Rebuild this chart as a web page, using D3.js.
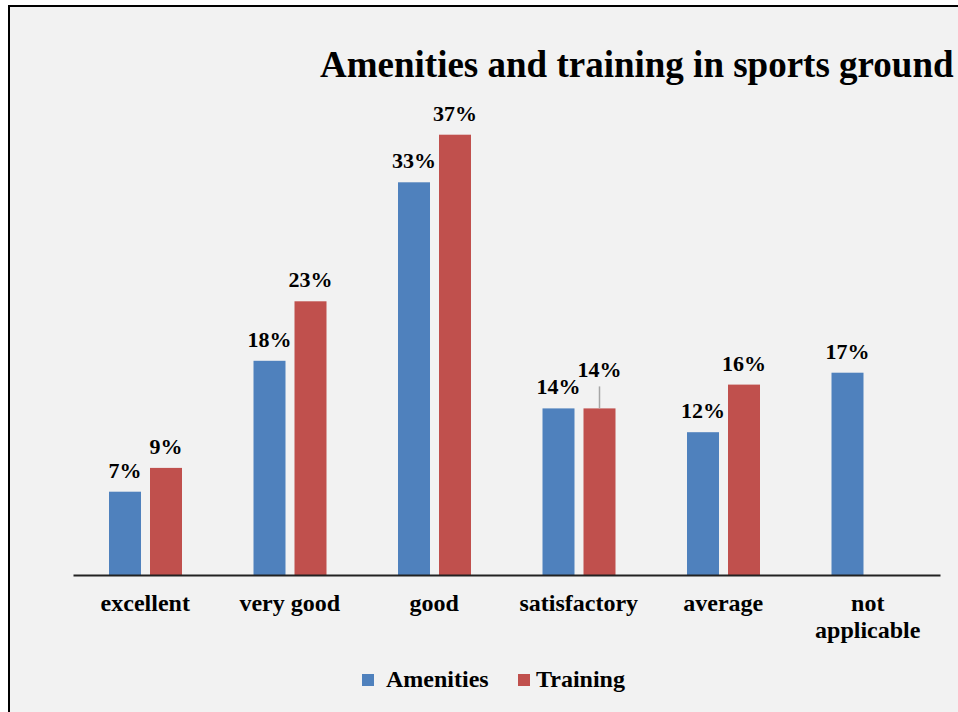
<!DOCTYPE html>
<html>
<head>
<meta charset="utf-8">
<script src="https://cdn.jsdelivr.net/npm/d3@7"></script>
<style>
  body { margin: 0; background: #fff; }
  svg { display: block; }
</style>
</head>
<body>
<div id="chart"></div>
<script>
// data
const categories = ["excellent", "very good", "good", "satisfactory", "average", "not applicable"];
const seriesNames = ["Amenities", "Training"];
const amenities = [0.07, 0.18, 0.33, 0.14, 0.12, 0.17];
const training = [0.09, 0.23, 0.37, 0.14, 0.16, null];
const seriesColors = ["#4f81bd", "#c0504d"];

const width = 958, height = 712;
const font = "'Liberation Serif', 'Times New Roman', serif";

const svg = d3.select('#chart').append('svg')
    .attr('width', width)
    .attr('height', height);

// chart area background + border (runs off right / bottom)
svg.append('rect')
    .attr('x', 9).attr('y', 6)
    .attr('width', 1000).attr('height', 800)
    .attr('fill', '#f2f2f2')
    .attr('stroke', '#000')
    .attr('stroke-width', 2);

// scales
const x0 = d3.scaleBand().domain(categories).range([73, 940]);
const x1 = d3.scaleBand().domain(seriesNames).range([36, 109]).paddingInner(9 / 41);
const y = d3.scaleLinear().domain([0, 0.40]).range([575, 99]);
const color = d3.scaleOrdinal().domain(seriesNames).range(seriesColors);

const rows = categories.map((c, i) => ({
  cat: c,
  values: [
    { key: "Amenities", value: amenities[i] },
    { key: "Training", value: training[i] }
  ].filter(v => v.value != null)
}));

// bars
const groups = svg.append('g')
  .selectAll('g')
  .data(rows)
  .join('g')
    .attr('transform', d => `translate(${x0(d.cat)},0)`);

groups.selectAll('rect')
  .data(d => d.values)
  .join('rect')
    .attr('x', d => x1(d.key))
    .attr('y', d => y(d.value))
    .attr('width', x1.bandwidth())
    .attr('height', d => y(0) - y(d.value))
    .attr('fill', d => color(d.key));

// value labels (satisfactory / Training is pushed up with a leader line)
const fmt = d3.format('.0%');
groups.each(function(d) {
  const g = d3.select(this);
  d.values.forEach(v => {
    const cx = x1(v.key) + x1.bandwidth() / 2;
    const lifted = d.cat === "satisfactory" && v.key === "Training";
    const base = lifted ? y(v.value) - 31 : y(v.value) - 14;
    if (lifted) {
      g.append('line')
        .attr('x1', cx).attr('x2', cx)
        .attr('y1', base + 9).attr('y2', y(v.value))
        .attr('stroke', '#a6a6a6').attr('stroke-width', 1.5);
    }
    g.append('text')
      .attr('x', cx).attr('y', base)
      .attr('text-anchor', 'middle')
      .attr('font-family', font).attr('font-weight', 'bold').attr('font-size', '22px')
      .text(fmt(v.value));
  });
});

// x axis
const xAxis = svg.append('g')
    .attr('transform', `translate(0,${y(0)})`)
    .call(d3.axisBottom(x0).tickSize(0).tickFormat(''));
xAxis.select('.domain').attr('stroke', '#222').attr('stroke-width', 2);
xAxis.selectAll('.tick').each(function(c) {
  const lines = c === "not applicable" ? ["not", "applicable"] : [c];
  const t = d3.select(this).append('text')
      .attr('fill', '#000')
      .attr('text-anchor', 'middle')
      .attr('font-family', font).attr('font-weight', 'bold').attr('font-size', '24px');
  lines.forEach((l, i) => t.append('tspan').attr('x', 0).attr('y', 36 + i * 27).text(l));
});

// title
svg.append('text')
    .attr('x', 320).attr('y', 77)
    .attr('font-family', font).attr('font-weight', 'bold').attr('font-size', '37px')
    .text('Amenities and training in sports ground');

// legend
const legendX = [362, 518];
const legend = svg.append('g')
  .selectAll('g')
  .data(seriesNames)
  .join('g')
    .attr('transform', (d, i) => `translate(${legendX[i]},674)`);
legend.append('rect')
    .attr('width', 12).attr('height', 12)
    .attr('fill', d => color(d));
legend.append('text')
    .attr('x', (d, i) => i === 0 ? 24 : 18).attr('y', 13)
    .attr('font-family', font).attr('font-weight', 'bold').attr('font-size', '24px')
    .text(d => d);
</script>
</body>
</html>
